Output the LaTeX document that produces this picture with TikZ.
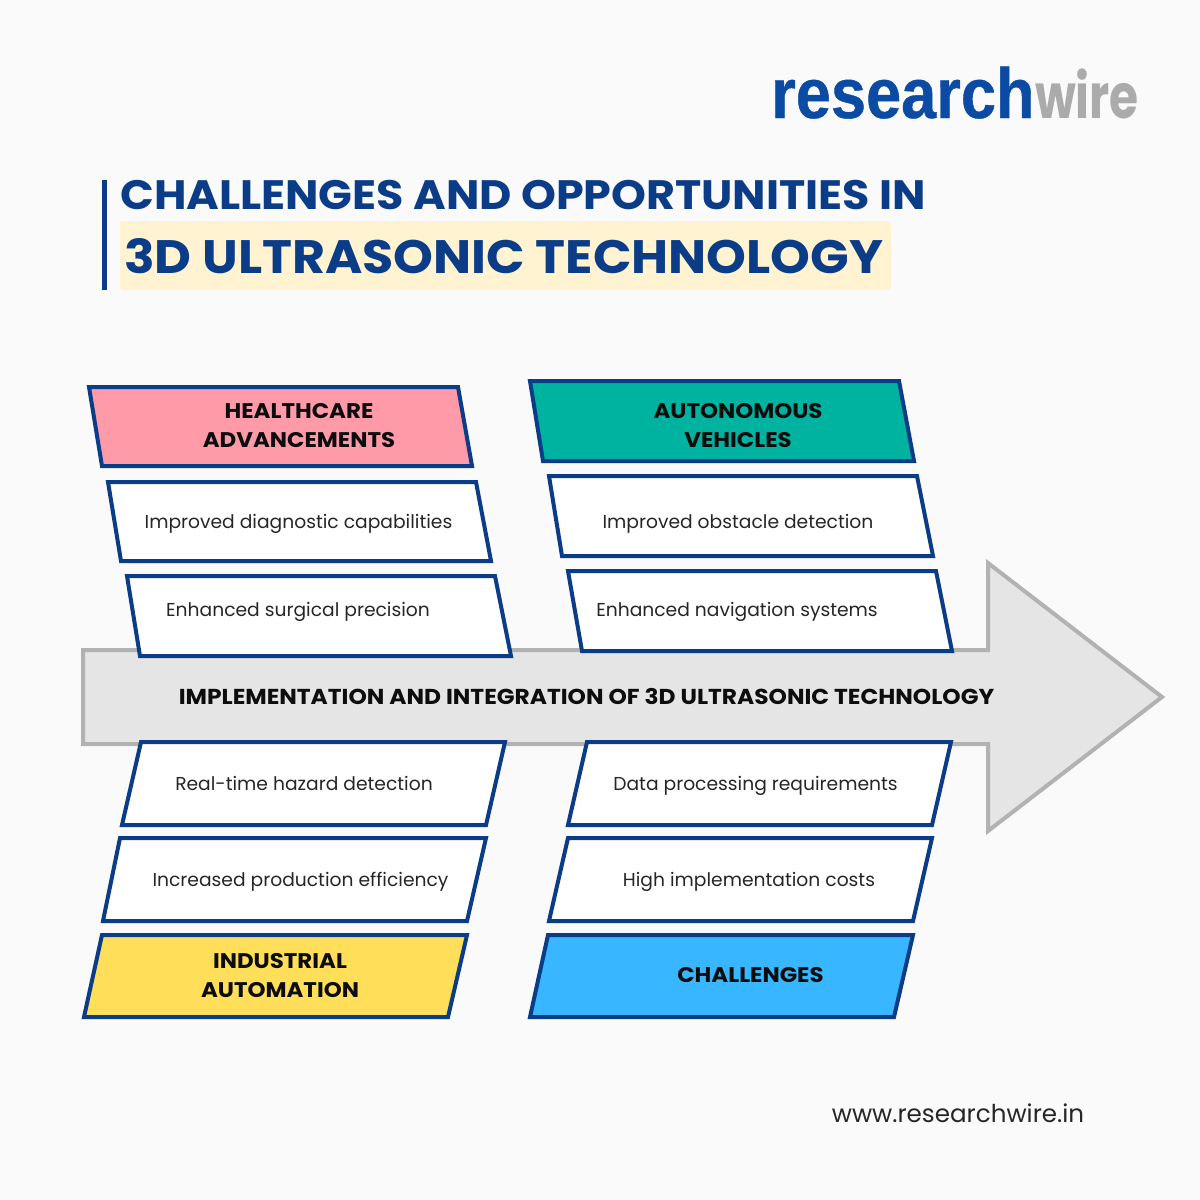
\documentclass[tikz,border=0pt]{standalone}
\usepackage{fontspec}
\setmainfont{Poppins}
\newfontfamily\widefont[FakeStretch=1.08]{Poppins}
\newfontfamily\logofont[FakeStretch=0.89,FakeBold=0.6]{Liberation Sans}
\newfontfamily\wirefont[FakeStretch=0.76]{Poppins}
\usepackage{xcolor}
\usetikzlibrary{positioning}
\definecolor{navy}{HTML}{0B3C87}
\definecolor{pinkfill}{HTML}{FF9AA9}
\definecolor{tealfill}{HTML}{00B2A0}
\definecolor{yellowfill}{HTML}{FFDE59}
\definecolor{bluefill}{HTML}{38B6FF}
\definecolor{creamfill}{HTML}{FFF3D2}
\definecolor{logoblue}{HTML}{0B4BA3}

\begin{document}
\begin{tikzpicture}[
    x=1pt,
    y=-1pt,
    panel/.style={
        draw=navy,
        line width=4pt,
        line join=miter,
        fill=white
    },
    backbone/.style={
        draw=black!30,
        line width=4pt,
        fill=black!10
    },
    headtext/.style={
        font=\widefont\fontsize{21.2}{29}\selectfont\bfseries,
        text=black!95,
        align=center,
        inner sep=0pt
    },
    itemtext/.style={
        font=\fontsize{18.7}{24}\selectfont,
        text=black!85,
        anchor=base,
        inner sep=0pt
    }
]

% Background
\useasboundingbox (0,0) rectangle (1200,1200);
\fill[black!2] (0,0) rectangle (1200,1200);

% Logo and title
\node[inner sep=0pt, anchor=base west, font=\logofont\fontsize{71}{71}\selectfont\bfseries, text=logoblue] (logo) at (771,118) {research};
\node[inner sep=0pt, anchor=base west, font=\wirefont\fontsize{62}{62}\selectfont\bfseries, text=black!33] (wire) at (logo.base east) {wire};
\fill[navy] (102,180) rectangle (107,290);
\fill[creamfill, rounded corners=3pt] (120,221) rectangle (891,290);
\node[inner sep=0pt, anchor=base west, font=\widefont\fontsize{41.1}{41}\selectfont\bfseries, text=navy] (title) at (120,209) {CHALLENGES AND OPPORTUNITIES IN};
\node[inner sep=0pt, anchor=base west, font=\widefont\fontsize{46.9}{48}\selectfont\bfseries, text=navy] (subtitle) at (124,273) {3D ULTRASONIC TECHNOLOGY};

% Arrow
\draw[backbone] (83,650) -- (988,650) -- (988,563) -- (1162,697) -- (988,831) -- (988,744) -- (83,744) -- cycle;

% Panels
\foreach \ax/\ay/\bx/\cx/\by/\dx/\col in {
    89/387/458/472/466/102/pinkfill,
    108/482/476/491/561/121/white,
    127/576/495/511/656/140/white,
    530/381/899/914/461/543/tealfill,
    549/476/917/933/556/562/white,
    568/571/936/952/651/582/white,
    141/742/505/486/825/122/white,
    120/838/486/467/921/103/white,
    102/935/467/448/1017/84/yellowfill,
    587/742/951/932/825/568/white,
    568/838/932/913/921/549/white,
    548/935/913/894/1017/530/bluefill}{
    \draw[panel, fill=\col] (\ax,\ay) -- (\bx,\ay) -- (\cx,\by) -- (\dx,\by) -- cycle;
}

% Nodes
\node[headtext] (health) at (299,426) {HEALTHCARE\\ADVANCEMENTS};
\node[itemtext] (diagnostic) at (298.5,528) {Improved diagnostic capabilities};
\node[itemtext] (surgical) at (298,616) {Enhanced surgical precision};
\node[headtext] (auto) at (738,426) {AUTONOMOUS\\VEHICLES};
\node[itemtext] (obstacle) at (738,528) {Improved obstacle detection};
\node[itemtext] (navigation) at (737,616) {Enhanced navigation systems};
\node[headtext, font=\widefont\fontsize{21.6}{29}\selectfont\bfseries] (main) at (586.5,696) {IMPLEMENTATION AND INTEGRATION OF 3D ULTRASONIC TECHNOLOGY};
\node[itemtext] (hazard) at (304,790) {Real-time hazard detection};
\node[itemtext] (efficiency) at (300.5,886) {Increased production efficiency};
\node[headtext] (industrial) at (280,976) {INDUSTRIAL\\AUTOMATION};
\node[itemtext] (data) at (755.5,790) {Data processing requirements};
\node[itemtext] (costs) at (749,886) {High implementation costs};
\node[headtext] (challenges) at (750.5,975) {CHALLENGES};
\node[inner sep=0pt, font=\fontsize{24.6}{25}\selectfont, text=black!85] (web) at (958,1113) {www.researchwire.in};

\end{tikzpicture}
\end{document}
